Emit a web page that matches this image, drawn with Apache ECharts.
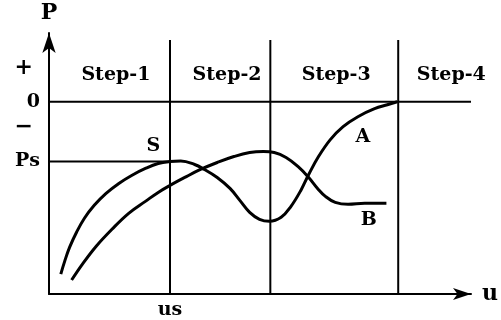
<!DOCTYPE html>
<html>
<head>
<meta charset="utf-8">
<script src="https://cdn.jsdelivr.net/npm/echarts@6/dist/echarts.min.js"></script>
<style>html,body{margin:0;padding:0;background:#fff}#c{width:501px;height:320px}</style>
</head>
<body>
<div id="c"></div>
<script>
// Schematic units (u to the right, P upward, 0 = zero line)
const curveS_A = [[12,-173],[16,-160],[21,-146],[28,-131],[36,-117],[46,-104],[58,-92],[71,-82],[84,-74],[98,-67],[111,-62],[123,-60],[134,-59.5],[148,-63],[158,-68],[171,-76],[184,-87],[194,-99],[204,-111],[214,-118],[224,-120],[236,-116],[246,-105],[256,-89],[264,-73],[274,-55],[286,-38],[299,-25],[314,-15],[331,-7],[344,-3],[354,0]];
const curveB = [[23,-179],[34,-163],[48,-145],[64,-128],[81,-112],[98,-100],[111,-91],[123,-84],[138,-76],[154,-68],[171,-61],[188,-55],[204,-51],[218,-50],[229,-51],[241,-56],[253,-65],[264,-76],[273,-87],[281,-95],[291,-101],[304,-103],[321,-102],[343,-102]];
const stepBounds = [123, 225, 355];
const stepNames = ['Step-1','Step-2','Step-3','Step-4'];
const stepCenters = [68, 181, 292, 409];
const psValue = -60;
const usValue = 123;
const yTickValues = [34, 0, -26, -60];
const yTickLabels = ['+', '0', '−', 'Ps'];
const xMin = 0, xMax = 429, yMin = -193, yMax = 69, stepTop = 62;

const FONT = 'DejaVu Serif';
const chart = echarts.init(document.getElementById('c'));
const lineStyleThin = {color:'#000', width:2};
const segSeries = [];
stepBounds.forEach(b => segSeries.push({type:'line', data:[[b,yMin],[b,stepTop]], symbol:'none', lineStyle:lineStyleThin, silent:true}));
segSeries.push({type:'line', data:[[xMin,0],[xMax,0]], symbol:'none', lineStyle:lineStyleThin, silent:true});
segSeries.push({type:'line', data:[[xMin,psValue],[usValue,psValue]], symbol:'none', lineStyle:lineStyleThin, silent:true});

const labelStyle = {fontFamily:FONT, fontWeight:'bold', fontSize:19, color:'#000'};
const textPoints = stepNames.map((n,i)=>({name:n, value:[stepCenters[i], 27]}))
  .concat([{name:'S', value:[106,-44]},{name:'A', value:[319,-35]},{name:'B', value:[325,-119]}]);

chart.setOption({
  animation:false,
  grid:{left:49, top:33, right:23, bottom:25, containLabel:false},
  xAxis:{type:'value', min:xMin, max:xMax,
    name:'u', nameLocation:'end', nameGap:11,
    nameTextStyle:{fontFamily:FONT, fontWeight:'bold', fontSize:22, color:'#000', verticalAlign:'middle'},
    axisLine:{show:true, onZero:false, lineStyle:{color:'#000', width:2}, symbol:['none','arrow'], symbolSize:[9,18], symbolOffset:[0,0]},
    axisTick:{show:false}, splitLine:{show:false},
    axisLabel:{customValues:[usValue], formatter:()=> 'us', fontFamily:FONT, fontWeight:'bold', fontSize:19, color:'#000', margin:7}
  },
  yAxis:{type:'value', min:yMin, max:yMax,
    name:'P', nameLocation:'end', nameGap:9,
    nameTextStyle:{fontFamily:FONT, fontWeight:'bold', fontSize:22, color:'#000', align:'center'},
    axisLine:{show:true, onZero:false, lineStyle:{color:'#000', width:2}, symbol:['none','arrow'], symbolSize:[10,20], symbolOffset:[0,0]},
    axisTick:{show:false}, splitLine:{show:false},
    axisLabel:{customValues:yTickValues,
      formatter:(v)=>{const i=yTickValues.indexOf(v); const t=yTickLabels[i]; return (t==='+'||t==='−')?'{pm|'+t+'}':'{n|'+t+'}';},
      margin:9,
      rich:{n:{fontFamily:FONT, fontWeight:'bold', fontSize:19, color:'#000'},
            pm:{fontFamily:FONT, fontWeight:'bold', fontSize:22, color:'#000', padding:[0,7,0,0]}}}
  },
  series: segSeries.concat([
    {type:'line', data:curveS_A, smooth:0.4, symbol:'none', lineStyle:{color:'#000', width:3}},
    {type:'line', data:curveB, smooth:0.4, symbol:'none', lineStyle:{color:'#000', width:3}},
    {type:'scatter', data:textPoints, symbolSize:0, silent:true, itemStyle:{opacity:1},
      label:{show:true, position:'inside', opacity:1, formatter:p=>p.name, ...labelStyle}}
  ])
});
</script>
</body>
</html>
